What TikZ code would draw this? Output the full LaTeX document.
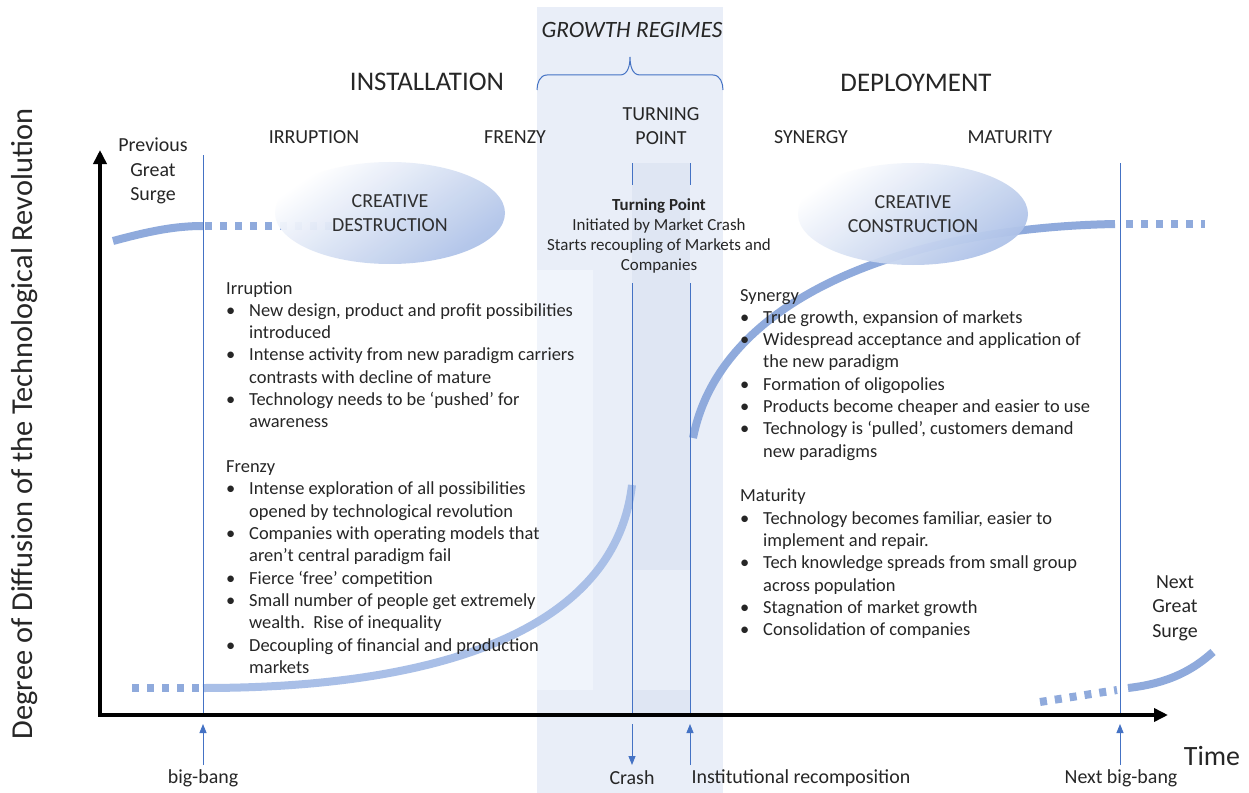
\documentclass[tikz,border=0pt]{standalone}
\usepackage{fontspec}
\setmainfont{Carlito}
\usetikzlibrary{arrows.meta,shapes.geometric}
\definecolor{bandC}{HTML}{E9EEF8}
\definecolor{bandL}{HTML}{F0F4FB}
\definecolor{bandD}{HTML}{DFE6F3}
\definecolor{lineB}{HTML}{4472C4}
\definecolor{curveB}{HTML}{8FAADC}
\definecolor{curveL}{HTML}{A9BFE7}
\definecolor{ellC}{HTML}{AEC2E8}
\definecolor{txt}{HTML}{262626}
\begin{document}
\begin{tikzpicture}[x=1bp,y=-1bp,
  every node/.style={text=txt,inner sep=0pt},
  vline/.style={draw=lineB,line width=0.9bp},
  smallarrow/.style={draw=lineB,line width=0.9bp,-{Triangle[length=9bp,width=7bp]}},
  axis/.style={draw=black,line width=3.5bp,-{Triangle[length=14bp,width=13bp]}},
  surge/.style={draw=curveB,line width=8bp},
  surgeL/.style={draw=curveL,line width=8bp},
  dashsurge/.style={draw=curveB,line width=8bp,dash pattern=on 7bp off 8bp},
  phase/.style={font=\fontsize{20}{24}\selectfont,align=center},
  big/.style={font=\fontsize{27}{30}\selectfont},
  lab/.style={font=\fontsize{20}{24}\selectfont},
  blob/.style={ellipse,minimum width=230bp,minimum height=102bp,top color=white,bottom color=ellC,shading angle=35,opacity=0.95,font=\fontsize{20}{24}\selectfont,align=center},
  body/.style={anchor=base west,font=\fontsize{18.5}{22.4}\selectfont}
]
\useasboundingbox (0,0) rectangle (1249,793);
\fill[white] (0,0) rectangle (1249,793);
% growth regime band
\fill[bandC] (537,7) rectangle (723,793);
\fill[bandL] (537,270) rectangle (593,690);
\fill[bandD] (632,163) rectangle (690,570);
\fill[bandD] (632,690) rectangle (690,715);
% brace
\draw[lineB,line width=1bp] (537,90) to[out=90,in=180] (547,75) -- (620,75) to[out=0,in=-90] (630,57) to[out=-90,in=180] (640,75) -- (713,75) to[out=0,in=90] (723,90);
\node[font=\itshape\fontsize{23.5}{26}\selectfont] (gr) at (632,30) {GROWTH REGIMES};
\node[big] (inst) at (427,82) {INSTALLATION};
\node[big] (depl) at (916,83) {DEPLOYMENT};
\node[phase] (irr) at (314,137) {IRRUPTION};
\node[phase] (fre) at (515,137) {FRENZY};
\node[phase] (tp) at (661,126) {TURNING\\[-0.5bp]POINT};
\node[phase] (syn) at (811,137) {SYNERGY};
\node[phase] (mat) at (1010,137) {MATURITY};
\node[phase,font=\fontsize{20}{24.5}\selectfont] (prev) at (153,171) {Previous\\Great\\Surge};
\node[phase,font=\fontsize{20}{24.5}\selectfont] (next) at (1175,608) {Next\\Great\\Surge};
% coordinates
\coordinate (bbT) at (203,155); \coordinate (bbB) at (203,715);
\coordinate (crT) at (632,163); \coordinate (crM1) at (632,185); \coordinate (crM2) at (632,283); \coordinate (crB) at (632,715);
\coordinate (inT) at (690,163); \coordinate (inM1) at (690,185); \coordinate (inM2) at (690,283); \coordinate (inB) at (690,715);
\coordinate (nbT) at (1120,163); \coordinate (nbB) at (1120,715);
% curves
\draw[surge] (113,241) .. controls (150,231) and (175,226) .. (203,226);
\draw[dashsurge] (205,226) -- (335,226);
\draw[dashsurge] (132,688) -- (203,688);
\draw[surgeL] (203,688) .. controls (440,688) and (615,630) .. (632,485);
\draw[surge] (693,438) .. controls (720,300) and (900,228) .. (1115,224);
\draw[dashsurge] (1126,224) -- (1205,224);
\draw[dashsurge] (1040,702) -- (1117,690);
\draw[surge] (1128,688) .. controls (1172,683) and (1195,668) .. (1213,652);
% ellipses
\node[blob] (cd) at (390,213) {CREATIVE\\DESTRUCTION};
\node[blob] (cc) at (913,214) {CREATIVE\\CONSTRUCTION};
% vertical lines
\draw[vline] (bbT) -- (bbB);
\draw[vline] (crT) -- (crM1); \draw[vline] (crM2) -- (crB);
\draw[vline] (inT) -- (inM1); \draw[vline] (inM2) -- (inB);
\draw[vline] (nbT) -- (nbB);
% axes
\coordinate (O) at (100,715);
\coordinate (yT) at (100,150);
\coordinate (xT) at (1168,715);
\draw[axis] (O) -- (yT);
\draw[axis] ([xshift=-1.75bp]O) -- (xT);
\node[font=\fontsize{30.5}{33}\selectfont,rotate=90] (ylab) at (25,424) {Degree of Diffusion of the Technological Revolution};
\node[font=\fontsize{28}{30}\selectfont] (time) at (1212,756) {Time};
% bottom arrows and labels
\node[lab] (bbL) at (203,778) {big-bang};
\node[lab] (crL) at (632,778) {Crash};
\node[lab] (inL) at (801,778) {Institutional recomposition};
\node[lab] (nbL) at (1121,778) {Next big-bang};
\coordinate (a1s) at (203,765); \coordinate (a1e) at (203,724);
\coordinate (a2s) at (632,724); \coordinate (a2e) at (632,765);
\coordinate (a3s) at (690,765); \coordinate (a3e) at (690,724);
\coordinate (a4s) at (1120,765); \coordinate (a4e) at (1120,724);
\draw[smallarrow] (a1s) -- (a1e);
\draw[smallarrow] (a2s) -- (a2e);
\draw[smallarrow] (a3s) -- (a3e);
\draw[smallarrow] (a4s) -- (a4e);
% turning point text
\node[font=\fontsize{17}{20}\selectfont,align=center] (tpt) at (659,236) {\textbf{Turning Point}\\Initiated by Market Crash\\Starts recoupling of Markets and\\Companies};
% installation text
\node[body] (itxt) at (226,294) {\begin{tabular}[t]{@{}p{23bp}@{}l@{}}
\multicolumn{2}{@{}l@{}}{Irruption}\\
\textbullet & New design, product and profit possibilities\\
 & introduced\\
\textbullet & Intense activity from new paradigm carriers\\
 & contrasts with decline of mature\\
\textbullet & Technology needs to be ‘pushed’ for\\
 & awareness\\
 & \\
\multicolumn{2}{@{}l@{}}{Frenzy}\\
\textbullet & Intense exploration of all possibilities\\
 & opened by technological revolution\\
\textbullet & Companies with operating models that\\
 & aren’t central paradigm fail\\
\textbullet & Fierce ‘free’ competition\\
\textbullet & Small number of people get extremely\\
 & wealth.\ \ Rise of inequality\\
\textbullet & Decoupling of financial and production\\
 & markets
\end{tabular}};
% deployment text
\node[body] (dtxt) at (740,301) {\begin{tabular}[t]{@{}p{23bp}@{}l@{}}
\multicolumn{2}{@{}l@{}}{Synergy}\\
\textbullet & True growth, expansion of markets\\
\textbullet & Widespread acceptance and application of\\
 & the new paradigm\\
\textbullet & Formation of oligopolies\\
\textbullet & Products become cheaper and easier to use\\
\textbullet & Technology is ‘pulled’, customers demand\\
 & new paradigms\\
 & \\
\multicolumn{2}{@{}l@{}}{Maturity}\\
\textbullet & Technology becomes familiar, easier to\\
 & implement and repair.\\
\textbullet & Tech knowledge spreads from small group\\
 & across population\\
\textbullet & Stagnation of market growth\\
\textbullet & Consolidation of companies
\end{tabular}};
\end{tikzpicture}
\end{document}
